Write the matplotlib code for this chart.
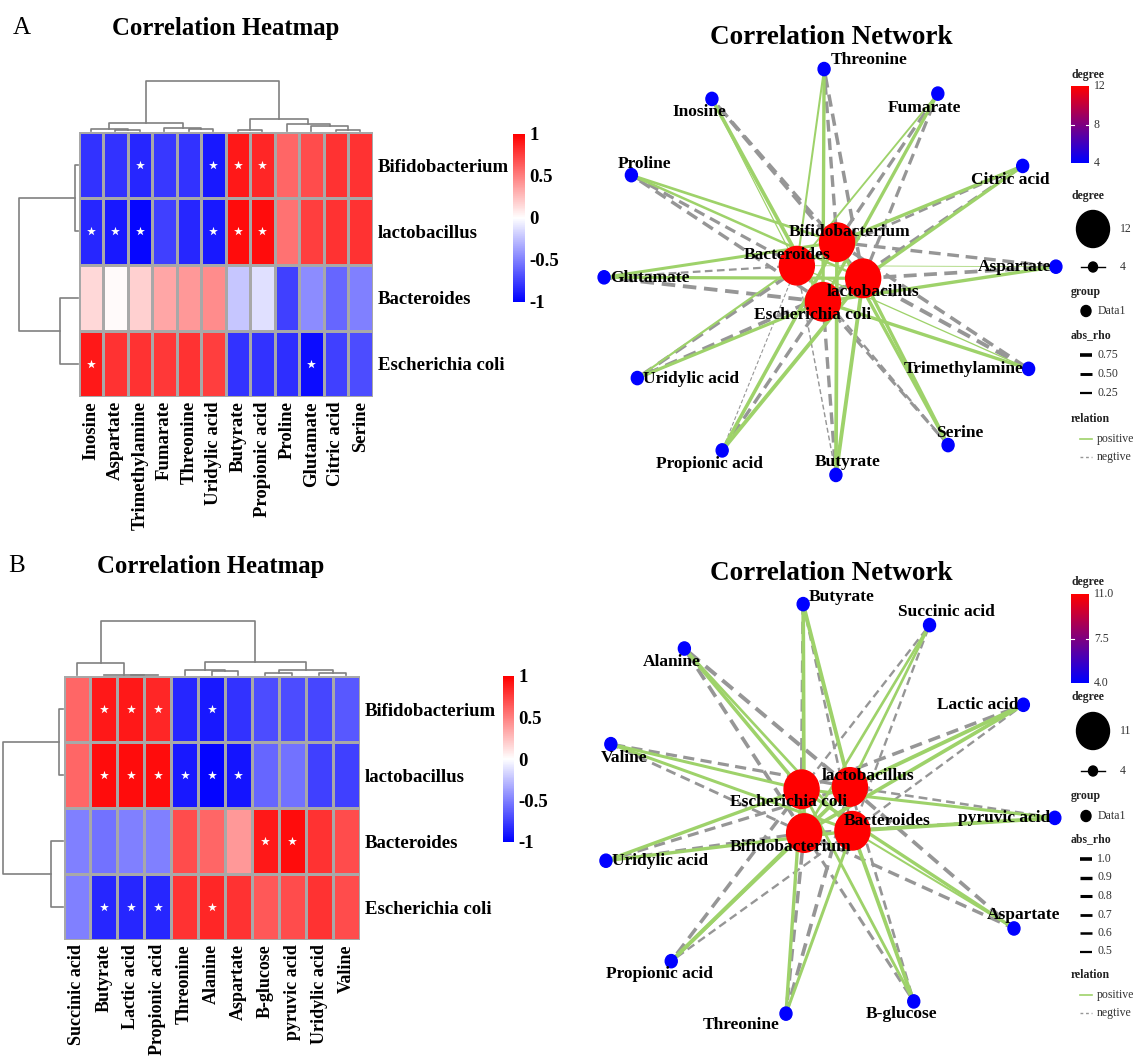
import numpy as np
import matplotlib
matplotlib.use('Agg')
import matplotlib.pyplot as plt
from matplotlib.colors import LinearSegmentedColormap, Normalize
from matplotlib.cm import ScalarMappable
from matplotlib.patches import Ellipse

W, H = 1134, 1056
plt.rcParams['font.family'] = ['Liberation Serif', 'DejaVu Serif']

bacteria = ['Bifidobacterium', 'lactobacillus', 'Bacteroides', 'Escherichia coli']

# ---- panel A data ----
metab_a = ['Inosine', 'Aspartate', 'Trimethylamine', 'Fumarate', 'Threonine',
           'Uridylic acid', 'Butyrate', 'Propionic acid', 'Proline', 'Glutamate',
           'Citric acid', 'Serine']
rho_a = np.array([
    [-0.80, -0.80, -0.85, -0.78, -0.80, -0.90, 0.90, 0.85, 0.60, 0.70, 0.80, 0.80],
    [-0.85, -0.90, -0.97, -0.75, -0.85, -0.90, 0.95, 0.95, 0.55, 0.75, 0.80, 0.80],
    [0.15, 0.02, 0.18, 0.35, 0.40, 0.45, -0.22, -0.12, -0.75, -0.45, -0.60, -0.50],
    [0.90, 0.80, 0.80, 0.78, 0.80, 0.75, -0.80, -0.80, -0.82, -0.95, -0.75, -0.70],
])
sig_a = np.array([
    [0, 0, 1, 0, 0, 1, 1, 1, 0, 0, 0, 0],
    [1, 1, 1, 0, 0, 1, 1, 1, 0, 0, 0, 0],
    [0, 0, 0, 0, 0, 0, 0, 0, 0, 0, 0, 0],
    [1, 0, 0, 0, 0, 0, 0, 0, 0, 1, 0, 0],
])
# merges (left, right, height) - leaves are 0..n-1, new clusters n, n+1, ...
col_tree_a = [(1, 2, 0.02), (0, 12, 0.05), (4, 5, 0.04), (3, 14, 0.07), (13, 15, 0.16),
              (6, 7, 0.02), (10, 11, 0.02), (9, 18, 0.11), (8, 19, 0.14), (17, 20, 0.247),
              (16, 21, 1.0)]
row_tree_a = [(0, 1, 0.05), (2, 3, 0.30), (4, 5, 1.0)]
ring_a = ['Threonine', 'Fumarate', 'Citric acid', 'Aspartate', 'Trimethylamine', 'Serine',
          'Butyrate', 'Propionic acid', 'Uridylic acid', 'Glutamate', 'Proline', 'Inosine']
hubs_a = ['Bifidobacterium', 'lactobacillus', 'Escherichia coli', 'Bacteroides']
deg_ticks_a = ['12', '8', '4']
size_labels_a = ['12', '4']
rho_labels_a = ['0.75', '0.50', '0.25']

# ---- panel B data ----
metab_b = ['Succinic acid', 'Butyrate', 'Lactic acid', 'Propionic acid', 'Threonine',
           'Alanine', 'Aspartate', 'B-glucose', 'pyruvic acid', 'Uridylic acid', 'Valine']
rho_b = np.array([
    [0.60, 0.90, 0.90, 0.85, -0.85, -0.90, -0.80, -0.70, -0.70, -0.72, -0.65],
    [0.60, 0.95, 0.95, 0.95, -0.90, -0.98, -0.92, -0.60, -0.55, -0.75, -0.75],
    [-0.50, -0.55, -0.50, -0.50, 0.70, 0.60, 0.40, 0.90, 0.95, 0.80, 0.70],
    [-0.50, -0.85, -0.85, -0.85, 0.80, 0.85, 0.80, 0.65, 0.70, 0.80, 0.70],
])
sig_b = np.array([
    [0, 1, 1, 1, 0, 1, 0, 0, 0, 0, 0],
    [0, 1, 1, 1, 1, 1, 1, 0, 0, 0, 0],
    [0, 0, 0, 0, 0, 0, 0, 1, 1, 0, 0],
    [0, 1, 1, 1, 0, 1, 0, 0, 0, 0, 0],
])
col_tree_b = [(2, 3, 0.003), (1, 11, 0.006), (0, 12, 0.216), (5, 6, 0.07), (4, 14, 0.087),
              (7, 8, 0.03), (9, 10, 0.04), (16, 17, 0.10), (15, 18, 0.233), (13, 19, 1.0)]
row_tree_b = [(0, 1, 0.066), (2, 3, 0.19), (4, 5, 1.0)]
ring_b = ['Butyrate', 'Succinic acid', 'Lactic acid', 'pyruvic acid', 'Aspartate', 'B-glucose',
          'Threonine', 'Propionic acid', 'Uridylic acid', 'Valine', 'Alanine']
hubs_b = ['lactobacillus', 'Bacteroides', 'Bifidobacterium', 'Escherichia coli']
deg_ticks_b = ['11.0', '7.5', '4.0']
size_labels_b = ['11', '4']
rho_labels_b = ['1.0', '0.9', '0.8', '0.7', '0.6', '0.5']

# label placement (dx, dy in px, alignment)
lab_a = {'Threonine': (7, -9, 'left'), 'Inosine': (-13, 13, 'center'),
         'Fumarate': (-13, 14, 'center'), 'Proline': (13, -11, 'center'),
         'Citric acid': (-12, 14, 'center'), 'Glutamate': (6, 1, 'left'),
         'Aspartate': (-5, 0, 'right'), 'Uridylic acid': (6, 1, 'left'),
         'Trimethylamine': (-5, 0, 'right'), 'Propionic acid': (-13, 14, 'center'),
         'Butyrate': (12, -13, 'center'), 'Serine': (12, -12, 'center'),
         'Bifidobacterium': (13, -10, 'center'), 'Bacteroides': (-10, -11, 'center'),
         'lactobacillus': (10, 14, 'center'), 'Escherichia coli': (-10, 13, 'center')}
lab_b = {'Butyrate': (6, -7, 'left'), 'Succinic acid': (17, -13, 'center'),
         'Alanine': (-13, 13, 'center'), 'Lactic acid': (-5, 0, 'right'),
         'Valine': (13, 14, 'center'), 'pyruvic acid': (-5, 0, 'right'),
         'Uridylic acid': (6, 0, 'left'), 'Aspartate': (10, -13, 'center'),
         'Propionic acid': (-12, 13, 'center'), 'B-glucose': (-12, 13, 'center'),
         'Threonine': (-6, 11, 'right'),
         'lactobacillus': (18, -11, 'center'), 'Escherichia coli': (-13, 13, 'center'),
         'Bacteroides': (35, -10, 'center'), 'Bifidobacterium': (-14, 14, 'center')}

heat_cmap = LinearSegmentedColormap.from_list('heat', ['#0000ff', '#ffffff', '#ff0000'])
deg_cmap = LinearSegmentedColormap.from_list('deg', ['#0000ff', '#ff0000'])
POS = '#9ed26a'
NEG = '#969696'
TREE = '#808080'

fig = plt.figure(figsize=(W / 100, H / 100), dpi=100)


def px_axes(x0, y0, w, h):
    return fig.add_axes([x0 / W, 1 - (y0 + h) / H, w / W, h / H])


def draw_tree(ax, merges, n, vertical):
    pos = {i: i + 0.5 for i in range(n)}
    hgt = {i: 0.0 for i in range(n)}
    for k, (a, b, h) in enumerate(merges):
        xs = [pos[a], pos[a], pos[b], pos[b]]
        ys = [hgt[a], h, h, hgt[b]]
        if vertical:
            ax.plot(xs, ys, color=TREE, lw=1.2, clip_on=False)
        else:
            ax.plot([-y for y in ys], xs, color=TREE, lw=1.2, clip_on=False)
        pos[n + k] = (pos[a] + pos[b]) / 2
        hgt[n + k] = h
    ax.axis('off')


def heatmap(box, rho, sig, cols, col_tree, row_tree, top, left, cbar, xfs):
    x0, y0, w, h = box
    nr, nc = rho.shape
    ax = px_axes(x0, y0, w, h)
    ax.pcolormesh(np.arange(nc + 1), np.arange(nr + 1), rho, cmap=heat_cmap,
                  vmin=-1, vmax=1, edgecolors='#a8a8a8', linewidth=0.9)
    r, c = np.nonzero(sig)
    ax.scatter(c + 0.5, r + 0.5, marker='*', s=45, color='white', linewidths=0, zorder=3)
    ax.set_xlim(0, nc)
    ax.set_ylim(nr, 0)
    ax.set_xticks(np.arange(nc) + 0.5)
    ax.set_xticklabels(cols, rotation=90, fontsize=xfs, fontweight='bold')
    ax.set_yticks(np.arange(nr) + 0.5)
    ax.set_yticklabels(bacteria, fontsize=13.5, fontweight='bold')
    ax.yaxis.tick_right()
    ax.tick_params(axis='y', length=0, pad=4)
    ax.tick_params(axis='x', length=0, pad=3)
    for s in ax.spines.values():
        s.set_visible(False)

    tax = px_axes(x0, top, w, y0 - top - 1)
    tax.set_xlim(0, nc)
    tax.set_ylim(0, 1)
    draw_tree(tax, col_tree, nc, True)

    lax = px_axes(left, y0, x0 - left - 1, h)
    lax.set_xlim(-1, 0)
    lax.set_ylim(nr, 0)
    draw_tree(lax, row_tree, nr, False)

    cax = px_axes(*cbar)
    cb = fig.colorbar(ScalarMappable(Normalize(-1, 1), heat_cmap), cax=cax)
    cb.outline.set_visible(False)
    cb.set_ticks([-1, -0.5, 0, 0.5, 1])
    cb.set_ticklabels(['-1', '-0.5', '0', '0.5', '1'])
    cax.tick_params(length=0, pad=3, labelsize=13.5)
    for t in cax.get_yticklabels():
        t.set_fontweight('bold')


def network(cx, cy, rx, ry, rho, cols, ring, theta0, hubs, hub0, labs):
    ax = px_axes(cx - 265, cy - 245, 530, 490)
    ax.set_xlim(-265 / rx, 265 / rx)
    ax.set_ylim(-245 / ry, 245 / ry)
    ax.axis('off')
    n = len(ring)
    ang = np.deg2rad(theta0 + 360.0 / n * np.arange(n))
    pos = {m: (np.sin(a), np.cos(a)) for m, a in zip(ring, ang)}
    hang = np.deg2rad(hub0 + 90.0 * np.arange(len(hubs)))
    for b, a in zip(hubs, hang):
        pos[b] = (0.15 * np.sin(a), 0.15 * np.cos(a))

    # edges: negative first, positive on top
    for sign in (-1, 1):
        for i, b in enumerate(bacteria):
            for j, m in enumerate(cols):
                v = rho[i, j]
                if np.sign(v) != sign:
                    continue
                (x1, y1), (x2, y2) = pos[b], pos[m]
                lw = 0.5 + 2.4 * abs(v)
                if v > 0:
                    ax.plot([x1, x2], [y1, y2], color=POS, lw=lw, zorder=2,
                            solid_capstyle='butt')
                else:
                    ax.plot([x1, x2], [y1, y2], color=NEG, lw=lw, zorder=1,
                            ls=(0, (3.5, 2)), dash_capstyle='butt')

    deg_max = n
    for name in ring + hubs:
        deg = len(bacteria) if name in ring else n
        f = (deg - 4) / (deg_max - 4)
        d = 12 + 23 * f
        x, y = pos[name]
        ax.add_patch(Ellipse((x, y), d / rx, 1.1 * d / ry, color=deg_cmap(f), zorder=3))
        dx, dy, ha = labs[name]
        ax.annotate(name, (x, y), xytext=(dx * 0.72, -dy * 0.72), textcoords='offset points',
                    ha=ha, va='center', fontsize=12.5, fontweight='bold', zorder=4)


def net_legend(ov, ys, deg_ticks, size_labels, rho_labels):
    x = 1071
    kw_t = dict(fontsize=8.5, fontweight='bold', va='center', ha='left', color='#222222')
    kw_l = dict(fontsize=8.5, va='center', ha='left', color='#333333')
    ov.text(x, ys['deg1'], 'degree', **kw_t)
    b0, b1 = ys['bar']
    ov.imshow(np.linspace(1, 0, 100).reshape(-1, 1), cmap=deg_cmap, aspect='auto',
              extent=[x, x + 18, b1, b0], zorder=2)
    for k, t in enumerate(deg_ticks):
        yy = b0 + (b1 - b0) * k / (len(deg_ticks) - 1)
        ov.text(x + 23, yy, t, **kw_l)
        if 0 < k < len(deg_ticks) - 1:
            ov.plot([x, x + 3], [yy, yy], color='white', lw=0.8, zorder=3)
            ov.plot([x + 15, x + 18], [yy, yy], color='white', lw=0.8, zorder=3)
    ov.text(x, ys['deg2'], 'degree', **kw_t)
    ov.add_patch(Ellipse((x + 22, ys['big']), 33, 37, color='black'))
    ov.text(x + 49, ys['big'], size_labels[0], **kw_l)
    ov.plot([x + 10, x + 34], [ys['small'], ys['small']], color='black', lw=1.0)
    ov.add_patch(Ellipse((x + 22, ys['small']), 9, 10, color='black'))
    ov.text(x + 49, ys['small'], size_labels[1], **kw_l)
    ov.text(x, ys['group'], 'group', **kw_t)
    ov.add_patch(Ellipse((x + 15, ys['data1']), 10, 11, color='black'))
    ov.text(x + 27, ys['data1'], 'Data1', **kw_l)
    ov.text(x, ys['rho'], 'abs_rho', **kw_t)
    nr = len(rho_labels)
    for k, t in enumerate(rho_labels):
        yy = ys['rho_first'] + ys['rho_step'] * k
        ov.plot([x + 9, x + 21], [yy, yy], color='black', lw=2.6 - 1.0 * k / max(nr - 1, 1),
                solid_capstyle='butt')
        ov.text(x + 26, yy, t, **kw_l)
    ov.text(x, ys['rel'], 'relation', **kw_t)
    ov.plot([x + 9, x + 21], [ys['pos'], ys['pos']], color=POS, lw=1.2)
    ov.text(x + 26, ys['pos'], 'positive', **kw_l)
    ov.plot([x + 9, x + 21], [ys['neg'], ys['neg']], color=NEG, lw=1.0, ls=(0, (2, 2)))
    ov.text(x + 26, ys['neg'], 'negtive', **kw_l)


# ---- heatmaps ----
heatmap((78.6, 132, 294, 265), rho_a, sig_a, metab_a, col_tree_a, row_tree_a,
        top=81, left=19, cbar=(513, 134, 12, 168), xfs=13.5)
heatmap((63.5, 676, 296, 264), rho_b, sig_b, metab_b, col_tree_b, row_tree_b,
        top=621, left=3, cbar=(503, 676, 11, 166), xfs=13)

# ---- networks ----
network(830, 272, 226, 203, rho_a, metab_a, ring_a, -1.5, hubs_a, 12, lab_a)
network(827, 810, 228, 207, rho_b, metab_b, ring_b, -6, hubs_b, 42, lab_b)

# ---- overlay: panel letters, titles, legends ----
ov = fig.add_axes([0, 0, 1, 1], zorder=10)
ov.patch.set_alpha(0)
ov.text(13, 28, 'A', fontsize=18, va='center', ha='left')
ov.text(8, 566, 'B', fontsize=18, va='center', ha='left')
ov.text(226, 28, 'Correlation Heatmap', fontsize=17.8, fontweight='bold', ha='center', va='center')
ov.text(211, 566, 'Correlation Heatmap', fontsize=17.8, fontweight='bold', ha='center', va='center')
ov.text(831, 38, 'Correlation Network', fontsize=19.5, fontweight='bold', ha='center', va='center')
ov.text(831, 573, 'Correlation Network', fontsize=19.5, fontweight='bold', ha='center', va='center')

net_legend(ov, dict(deg1=75, bar=(86, 163), deg2=196, big=229, small=267, group=292, data1=311,
                    rho=335, rho_first=355, rho_step=19, rel=419, pos=439, neg=457),
           deg_ticks_a, size_labels_a, rho_labels_a)
net_legend(ov, dict(deg1=582, bar=(594, 683), deg2=697, big=731, small=771, group=796, data1=816,
                    rho=839, rho_first=859, rho_step=18.5, rel=975, pos=995, neg=1013),
           deg_ticks_b, size_labels_b, rho_labels_b)
ov.set_xlim(0, W)
ov.set_ylim(H, 0)
ov.axis('off')

fig.savefig('out.png', dpi=100)
